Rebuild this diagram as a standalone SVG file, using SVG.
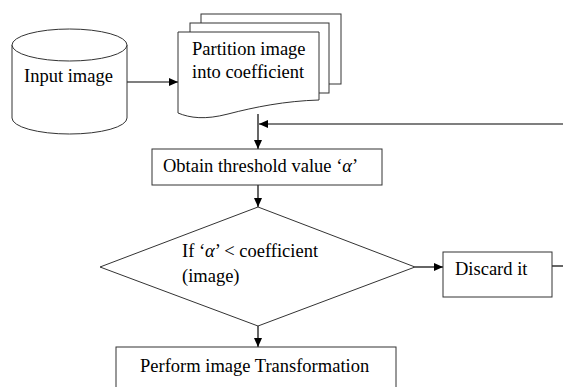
<svg xmlns="http://www.w3.org/2000/svg" width="563" height="387" viewBox="0 0 563 387">
<defs>
<marker id="ah" markerUnits="userSpaceOnUse" markerWidth="10" markerHeight="10" refX="9" refY="5" orient="auto" viewBox="0 0 10 10">
<path d="M0,1 L9,5 L0,9 Z" fill="#000"/>
</marker>
</defs>
<style>
.s{fill:#fff;stroke:#333;stroke-width:1}
.t{font-size:18.5px;fill:#000}
.c{stroke:#000;stroke-width:1.2;fill:none}
.a{font-style:italic}
</style>
<rect width="563" height="387" fill="#fff"/>
<g id="connectors">
<line class="c" x1="127" y1="82" x2="178" y2="82" marker-end="url(#ah)"/>
<line class="c" x1="258" y1="114" x2="258" y2="149" marker-end="url(#ah)"/>
<line class="c" x1="563" y1="124" x2="259" y2="124" marker-end="url(#ah)"/>
<line class="c" x1="258" y1="185" x2="258" y2="207" marker-end="url(#ah)"/>
<line class="c" x1="415" y1="267" x2="443" y2="267" marker-end="url(#ah)"/>
<line class="c" x1="258" y1="326" x2="258" y2="347" marker-end="url(#ah)"/>
<line class="c" x1="552" y1="266" x2="563" y2="266"/>
</g>
<g font-family="Liberation Serif, serif">
<g id="input">
<path class="s" d="M12,45 L12,118 A57.5,16 0 0 0 127,118 L127,45"/>
<ellipse class="s" cx="69.5" cy="45" rx="57.5" ry="16"/>
<text class="t" font-family="Liberation Serif, serif" x="24" y="82">Input image</text>
</g>
<g id="partition">
<rect class="s" x="201" y="14" width="140" height="70"/>
<rect class="s" x="190" y="23" width="139" height="70"/>
<path class="s" d="M178,32 L319,32 L319,100 C285,101 255,107 228,114 C205,120 190,118 178,113 Z"/>
<text class="t" font-family="Liberation Serif, serif" x="192" y="55">Partition image</text>
<text class="t" font-family="Liberation Serif, serif" x="192" y="78">into coefficient</text>
</g>
<g id="threshold">
<rect class="s" x="152" y="149" width="230" height="36"/>
<text class="t" font-family="Liberation Serif, serif" x="163" y="172">Obtain threshold value ‘<tspan class="a">α</tspan>’</text>
</g>
<g id="decision">
<path class="s" d="M258,207 L415,267 L258,326 L100,267 Z"/>
<text class="t" font-family="Liberation Serif, serif" x="182" y="257">If ‘<tspan class="a">α</tspan>’ &lt; coefficient</text>
<text class="t" font-family="Liberation Serif, serif" x="182" y="282">(image)</text>
</g>
<g id="discard">
<rect class="s" x="443" y="252" width="109" height="45"/>
<text class="t" font-family="Liberation Serif, serif" x="455" y="275">Discard it</text>
</g>
<g id="transform">
<rect class="s" x="116" y="347" width="280" height="50"/>
<text class="t" font-family="Liberation Serif, serif" x="140" y="372">Perform image Transformation</text>
</g>
</g>
</svg>
